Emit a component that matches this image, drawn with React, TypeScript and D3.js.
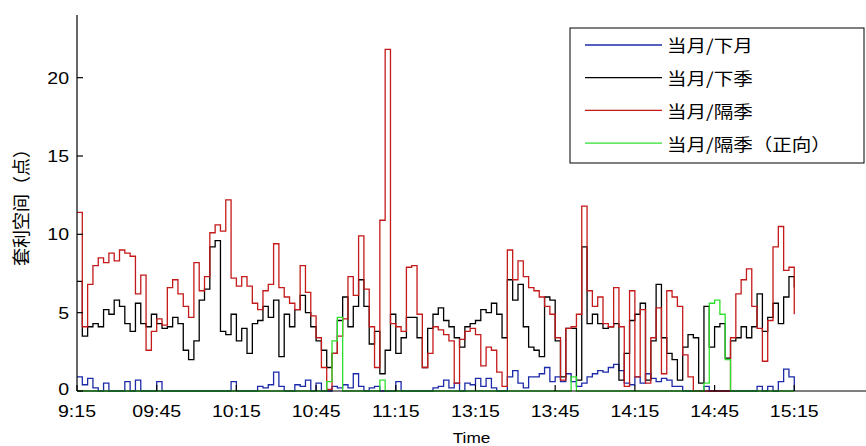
import React from "react";
import * as d3 from "d3";

// minutes since 9:15 (lunch break removed), one sample every 2 minutes
const step = 2;
const tickMinutes = [0, 30, 60, 90, 120, 150, 180, 210, 240, 270];
const tickLabels = ["9:15", "09:45", "10:15", "10:45", "11:15", "13:15", "13:45", "14:15", "14:45", "15:15"];
const yTicks = [0, 5, 10, 15, 20];

const seriesNames = ["当月/下月", "当月/下季", "当月/隔季", "当月/隔季（正向）"];
const seriesColors = ["#1c2aa8", "#000000", "#c41a1a", "#2ee02e"];

// 当月/下月
const nearMonth = [
  0.9, 0.4, 0.8, 0.2, 0, 0.5, 0, 0, 0, 0.6,
  0, 0.7, 0, 0, 0, 0.6, 0, 0, 0, 0,
  0, 0, 0, 0, 0, 0, 0, 0, 0, 0.6,
  0, 0, 0, 0, 0.3, 0.2, 0.4, 1.2, 0.3, 0,
  0, 0.4, 0.3, 0.7, 0, 0.5, 0, 0, 0.3, 0.2,
  0.4, 0.2, 1.1, 0.3, 0, 0.2, 0.3, 0, 0, 0,
  0.6, 0, 0, 0, 0, 0, 0, 0.2, 0.3, 0.7,
  0.2, 0.5, 0, 0.5, 0.4, 0.8, 0.3, 0.8, 0.2, 0,
  0, 0.9, 1.3, 0.5, 0.2, 0.9, 0.9, 1.1, 1.5, 0.6,
  0.9, 0.6, 1.1, 0.6, 0.3, 0.5, 0.9, 1.1, 1.3, 1.2,
  1.5, 1.7, 1.3, 0.5, 0.4, 0.9, 0.5, 1.1, 0.8, 0.6,
  0.8, 0.7, 0.3, 0.3, 0, 0, 0, 0, 0.3, 0,
  0, 0, 0, 0, 0, 0, 0, 0, 0.3, 0,
  0.3, 0, 0.6, 1.4, 0.9, 0,
];

// 当月/下季
const nextQuarter = [
  7.0, 3.5, 4.1, 4.3, 4.1, 5.2, 4.9, 5.8, 5.4, 4.3,
  3.8, 5.6, 4.3, 4.1, 4.9, 4.3, 4.0, 4.1, 4.7, 4.3,
  2.6, 2.0, 3.2, 5.8, 6.5, 9.2, 9.6, 3.8, 3.6, 4.9,
  3.2, 4.0, 2.4, 4.3, 4.5, 5.4, 4.7, 5.8, 2.2, 4.9,
  4.1, 5.2, 6.1, 5.0, 4.1, 3.2, 2.6, 1.5, 2.4, 4.5,
  6.0, 4.1, 5.4, 7.1, 5.4, 3.0, 3.8, 1.1, 2.6, 4.9,
  2.4, 3.4, 4.7, 4.7, 3.4, 1.5, 4.0, 4.9, 5.3, 4.5,
  4.1, 3.4, 2.8, 4.1, 4.3, 4.5, 5.2, 5.0, 5.6, 4.9,
  3.4, 7.1, 5.8, 6.8, 4.1, 2.8, 2.6, 2.2, 6.0, 5.8,
  3.2, 0.9, 4.0, 4.0, 0.7, 9.2, 4.3, 4.9, 4.3, 4.0,
  4.1, 4.3, 0.7, 2.4, 4.5, 4.9, 5.6, 0.7, 3.2, 6.8,
  3.4, 2.4, 2.0, 0.7, 2.8, 3.6, 3.4, 0.5, 5.4, 2.8,
  4.1, 4.3, 2.1, 3.2, 3.4, 4.1, 3.4, 4.1, 6.2, 3.8,
  4.7, 5.6, 4.3, 6.0, 7.3, 6.6,
];

// 当月/隔季
const farQuarter = [
  11.4, 4.1, 6.8, 8.0, 8.5, 8.2, 8.8, 8.3, 9.0, 8.8,
  8.6, 6.2, 7.4, 2.6, 3.8, 4.6, 4.2, 6.6, 7.1, 6.2,
  5.4, 4.7, 8.2, 6.4, 7.3, 10.1, 10.6, 10.2, 12.2, 7.2,
  6.7, 7.3, 6.7, 5.6, 5.2, 6.4, 6.8, 9.4, 6.6, 6.0,
  5.6, 5.2, 8.0, 6.3, 4.8, 3.4, 1.5, 0.1, 2.4, 3.5,
  4.6, 7.3, 6.1, 9.9, 6.5, 4.1, 1.5, 10.9, 21.8, 4.3,
  4.1, 3.8, 7.9, 8.0, 4.9, 1.5, 2.4, 4.1, 3.9, 3.6,
  3.2, 0.5, 3.3, 3.8, 4.0, 3.6, 1.6, 2.8, 2.6, 1.2,
  0.3, 9.0, 7.1, 8.3, 7.3, 6.6, 6.4, 6.0, 5.4, 4.9,
  3.4, 0.7, 4.0, 4.1, 4.9, 11.8, 6.4, 5.4, 6.0, 4.3,
  4.1, 6.6, 4.1, 0.3, 6.4, 0.9, 5.2, 0.5, 3.4, 5.3,
  1.1, 6.4, 6.0, 5.4, 2.3, 0.9, 0, 0, 0, 0,
  0, 0, 0, 3.4, 6.2, 7.1, 7.8, 5.4, 4.0, 1.9,
  4.5, 9.2, 10.5, 7.7, 7.9, 4.9,
];

// 当月/隔季（正向）
const farQuarterPos = [
  0, 0, 0, 0, 0, 0, 0, 0, 0, 0,
  0, 0, 0, 0, 0, 0, 0, 0, 0, 0,
  0, 0, 0, 0, 0, 0, 0, 0, 0, 0,
  0, 0, 0, 0, 0, 0, 0, 0, 0, 0,
  0, 0, 0, 0, 0, 0, 0, 0.6, 3.2, 4.7,
  0, 0, 0, 0, 0, 0, 0, 0.7, 0, 0,
  0, 0, 0, 0, 0, 0, 0, 0, 0, 0,
  0, 0, 0, 0, 0, 0, 0, 0, 0, 0,
  0, 0, 0, 0, 0, 0, 0, 0, 0, 0,
  0, 0, 0, 0.9, 0, 0, 0, 0, 0, 0,
  0, 0, 0, 0, 0, 0, 0, 0, 0, 0,
  0, 0, 0, 0, 0, 0, 0, 0, 0.5, 5.6,
  5.8, 4.9, 2.0, 0, 0, 0, 0, 0, 0, 0,
  0, 0, 0, 0, 0, 0,
];

const series = [nearMonth, nextQuarter, farQuarter, farQuarterPos];

export default function App() {
  const width = 866;
  const height = 446;
  const left = 77;
  const top = 15;
  const bottom = 391;

  const x = d3.scaleLinear().domain([0, 297]).range([left, width]);
  const y = d3.scaleLinear().domain([0, 24]).range([bottom, top]);

  // stair-stepped trace, like the dense tick data in the original
  const line = d3
    .line<number>()
    .x((d, i) => x(i * step))
    .y((d) => y(d))
    .curve(d3.curveStepAfter);

  const font = "'Liberation Sans', Arial, sans-serif";
  const cjk = "'Noto Sans CJK SC', 'Liberation Sans', sans-serif";
  const stretch = "scale(1.15,1)";

  return (
    <svg
      width={width}
      height={height}
      style={{ position: "absolute", left: 0, top: 0, display: "block", background: "#fff" }}
    >
      {/* lines */}
      <g fill="none" strokeWidth={1.3}>
        {series.map((s, k) => (
          <path key={k} d={line(s) || ""} stroke={seriesColors[k]} />
        ))}
      </g>

      {/* axes */}
      <g stroke="#000" strokeWidth={1.2}>
        <line x1={left} x2={left} y1={y(24)} y2={y(0)} />
        <line x1={left} x2={width} y1={y(0)} y2={y(0)} />
        {yTicks.map((v) => (
          <line key={v} x1={left} x2={left + 6} y1={y(v)} y2={y(v)} />
        ))}
        {tickMinutes.map((t) => (
          <line key={t} x1={x(t)} x2={x(t)} y1={y(0)} y2={y(0) - 6} />
        ))}
      </g>

      <g fontFamily={font} fontSize={17} fill="#000">
        {yTicks.map((v) => (
          <text
            key={v}
            transform={`translate(${left - 8},${y(v) - (v === 0 ? 2 : 0)}) ${stretch}`}
            textAnchor="end"
            dominantBaseline="central"
          >
            {v}
          </text>
        ))}
        {tickMinutes.map((t, i) => (
          <text
            key={t}
            transform={`translate(${x(t)},${411}) ${stretch}`}
            textAnchor="middle"
            dominantBaseline="central"
          >
            {tickLabels[i]}
          </text>
        ))}
        <text
          transform={`translate(${(left + x(297)) / 2},${437}) ${stretch}`}
          textAnchor="middle"
          dominantBaseline="central"
          fontSize={15}
        >
          Time
        </text>
      </g>

      <text
        transform={`translate(${20},${(top + bottom) / 2}) rotate(-90)`}
        textAnchor="middle"
        dominantBaseline="central"
        fontFamily={cjk}
        fontSize={18}
      >
        套利空间（点）
      </text>

      {/* legend */}
      <g>
        <rect x={570} y={28} width={294} height={135} fill="#fff" stroke="#000" strokeWidth={1} />
        {seriesNames.map((name, k) => (
          <g key={name} transform={`translate(0,${45 + k * 32.7})`}>
            <line x1={585} x2={662} y1={0} y2={0} stroke={seriesColors[k]} strokeWidth={1.3} />
            <text
              transform={`translate(667,0) ${stretch}`}
              dominantBaseline="central"
              fontFamily={cjk}
              fontSize={17}
            >
              {name}
            </text>
          </g>
        ))}
      </g>
    </svg>
  );
}
